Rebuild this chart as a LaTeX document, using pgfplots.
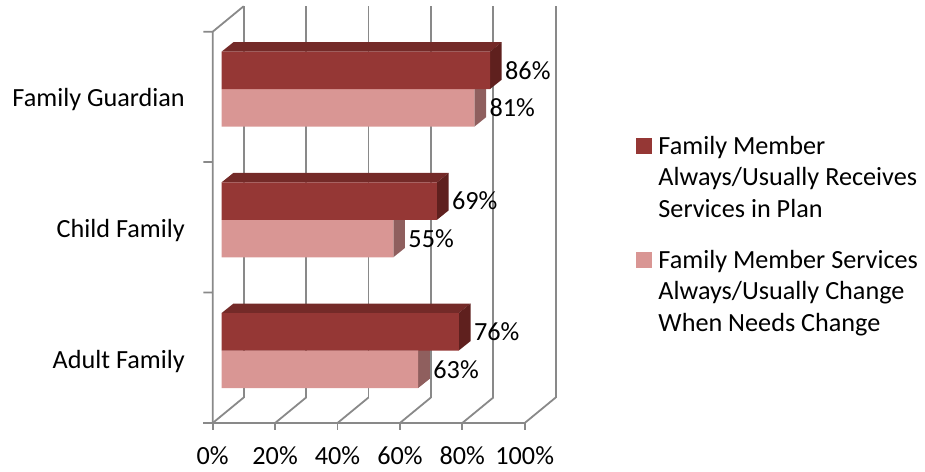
\documentclass[border=0pt]{standalone}
\usepackage{fontspec}
\setmainfont{Carlito}
\usepackage{pgfplots}
\pgfplotsset{compat=1.18}
\definecolor{darkfront}{HTML}{953735}
\definecolor{darktop}{HTML}{742A28}
\definecolor{darkside}{HTML}{5F201E}
\definecolor{lightfront}{HTML}{D99694}
\definecolor{lightside}{HTML}{8F5F5E}
\definecolor{gridgray}{HTML}{898989}
\newcommand{\chartfont}{\fontsize{26.3}{31.7}\selectfont}
\begin{document}
\begin{tikzpicture}
\path[use as bounding box] (-212.7bp,-49bp) rectangle (712.3bp,423bp);
\begin{axis}[
  at={(0,0)}, anchor=south west,
  x=3.12bp, y=1bp,
  xmin=-2.88, xmax=108, ymin=0, ymax=418,
  clip=false,
  axis line style={draw=none},
  major tick length=0pt,
  xtick={-2.88,17.12,37.12,57.12,77.12,97.12},
  xticklabels={0\%,20\%,40\%,60\%,80\%,100\%},
  ytick={61.7,192.4,323.1},
  yticklabels={Adult Family,Child Family,Family Guardian},
  xticklabel style={font=\chartfont, anchor=north, inner sep=0pt, yshift=-23.5bp},
  yticklabel style={font=\chartfont, anchor=east, inner sep=0pt, xshift=-27.7bp},
  unbounded coords=jump,
  /pgf/number format/assume math mode=true,
  legend style={draw=none, fill=none, at={(1.2237,0.6866)}, anchor=north west,
    font=\chartfont, align=left, inner sep=0pt, outer sep=0pt,
    row sep=31bp, column sep=7bp, nodes={inner sep=0pt, align=left}},
  legend cell align=left,
]
\addlegendimage{legend image code/.code={\fill[darkfront] (0bp,24.2bp) rectangle (15bp,39.2bp);}}
\addlegendentry{Family Member\\Always/Usually Receives\\Services in Plan}
\addlegendimage{legend image code/.code={\fill[lightfront] (0bp,24.2bp) rectangle (15bp,39.2bp);}}
\addlegendentry{Family Member Services\\Always/Usually Change\\When Needs Change}

% back wall gridlines
\addplot[gridgray, line width=1.8bp, forget plot] coordinates {
 (7.06,25.5) (7.06,416.8) (7.06,nan)
 (27.06,25.5) (27.06,416.8) (27.06,nan)
 (47.06,25.5) (47.06,416.8) (47.06,nan)
 (67.06,25.5) (67.06,416.8) (67.06,nan)
 (87.06,25.5) (87.06,416.8) (87.06,nan)
 (107.06,25.5) (107.06,416.8)
};
% floor diagonals
\addplot[gridgray, line width=1.8bp, forget plot] coordinates {
 (-2.88,0) (7.06,25.5) (7.06,nan)
 (17.12,0) (27.06,25.5) (27.06,nan)
 (37.12,0) (47.06,25.5) (47.06,nan)
 (57.12,0) (67.06,25.5) (67.06,nan)
 (77.12,0) (87.06,25.5) (87.06,nan)
 (97.12,0) (107.06,25.5)
};
% front floor line and ticks
\addplot[gridgray, line width=1.8bp, forget plot] coordinates {
 (-5.9,0) (97.12,0) (97.12,nan)
 (-2.88,0) (-2.88,-7) (-2.88,nan)
 (17.12,0) (17.12,-7) (17.12,nan)
 (37.12,0) (37.12,-7) (37.12,nan)
 (57.12,0) (57.12,-7) (57.12,nan)
 (77.12,0) (77.12,-7) (77.12,nan)
 (97.12,0) (97.12,-7)
};
% left wall
\addplot[gridgray, line width=1.8bp, forget plot] coordinates {
 (-2.88,0) (-2.88,391.3) (7.06,416.8) (7.06,nan)
 (-5.9,130.5) (-2.88,130.5) (-2.88,nan)
 (-5.9,261) (-2.88,261) (-2.88,nan)
 (-5.9,391.3) (-2.88,391.3)
};

% light bars: side faces
\addplot[fill=lightside, draw=none, forget plot] coordinates {(81,296.4) (84.75,305.8) (84.75,343.3) (81,333.9)};
\addplot[fill=lightside, draw=none, forget plot] coordinates {(55,165.7) (58.75,175.1) (58.75,212.6) (55,203.2)};
\addplot[fill=lightside, draw=none, forget plot] coordinates {(63,35) (66.75,44.4) (66.75,81.9) (63,72.5)};
% light bars: front faces
\addplot[xbar, bar shift=0pt, bar width=37.5, fill=lightfront, draw=none, forget plot,
  point meta=x, nodes near coords={\pgfmathprintnumber{\pgfplotspointmeta}\%},
  every node near coord/.append style={font=\chartfont, anchor=west, inner sep=0pt, xshift=15bp, text=black}]
  coordinates {(81,315.15) (55,184.45) (63,53.75)};

% dark bars: top faces
\addplot[fill=darktop, draw=none, forget plot] coordinates {(0,371.4) (86,371.4) (89.75,380.8) (3.75,380.8)};
\addplot[fill=darktop, draw=none, forget plot] coordinates {(0,240.7) (69,240.7) (72.75,250.1) (3.75,250.1)};
\addplot[fill=darktop, draw=none, forget plot] coordinates {(0,110) (76,110) (79.75,119.4) (3.75,119.4)};
% dark bars: side faces
\addplot[fill=darkside, draw=none, forget plot] coordinates {(86,333.9) (89.75,343.3) (89.75,380.8) (86,371.4)};
\addplot[fill=darkside, draw=none, forget plot] coordinates {(69,203.2) (72.75,212.6) (72.75,250.1) (69,240.7)};
\addplot[fill=darkside, draw=none, forget plot] coordinates {(76,72.5) (79.75,81.9) (79.75,119.4) (76,110)};
% dark bars: front faces
\addplot[xbar, bar shift=0pt, bar width=37.5, fill=darkfront, draw=none, forget plot,
  point meta=x, nodes near coords={\pgfmathprintnumber{\pgfplotspointmeta}\%},
  every node near coord/.append style={font=\chartfont, anchor=west, inner sep=0pt, xshift=15bp, text=black}]
  coordinates {(86,352.65) (69,221.95) (76,91.25)};
\end{axis}
\end{tikzpicture}
\end{document}
